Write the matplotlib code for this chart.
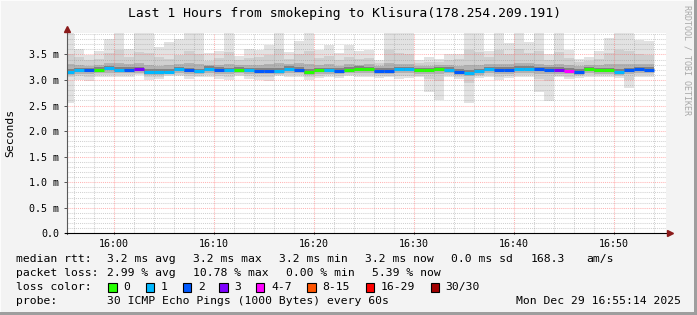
import numpy as np
import pandas as pd
import matplotlib
matplotlib.use("Agg")
import matplotlib.pyplot as plt
from matplotlib.patches import Rectangle

# ---------------- data ----------------
sample_end = pd.date_range("2025-12-29 15:56:03", periods=59, freq="min")
ref_time = pd.Timestamp("2025-12-29 16:00:00")

smoke_max = [4.20, 3.60, 3.49, 3.56, 3.81, 4.20, 3.61, 4.20, 4.20, 3.64,
             3.74, 3.81, 4.20, 4.20, 3.52, 3.56, 4.20, 3.47, 3.61, 3.59,
             3.69, 4.20, 3.55, 3.76, 4.20, 3.59, 3.69, 3.53, 3.69, 3.56,
             3.58, 3.40, 4.20, 4.20, 4.20, 3.40, 3.45, 3.42, 3.50, 3.50,
             4.20, 4.20, 3.57, 4.20, 3.72, 4.20, 3.74, 4.20, 3.51, 4.20,
             3.58, 3.42, 3.45, 3.56, 3.82, 4.20, 4.20, 3.79, 3.77]
smoke_p90 = [3.50, 3.45, 3.40, 3.42, 3.52, 3.58, 3.46, 3.55, 3.52, 3.46,
             3.42, 3.48, 3.56, 3.50, 3.38, 3.44, 3.55, 3.40, 3.44, 3.45,
             3.48, 3.60, 3.42, 3.50, 3.56, 3.44, 3.47, 3.40, 3.45, 3.42,
             3.44, 3.34, 3.58, 3.52, 3.50, 3.34, 3.36, 3.35, 3.40, 3.42,
             3.58, 3.55, 3.45, 3.58, 3.50, 3.60, 3.52, 3.56, 3.40, 3.55,
             3.44, 3.35, 3.38, 3.42, 3.52, 3.58, 3.56, 3.50, 3.48]
smoke_p75 = [3.32, 3.30, 3.28, 3.30, 3.34, 3.33, 3.31, 3.34, 3.30, 3.28,
             3.30, 3.32, 3.33, 3.31, 3.30, 3.30, 3.32, 3.29, 3.29, 3.30,
             3.31, 3.34, 3.31, 3.33, 3.32, 3.30, 3.31, 3.28, 3.31, 3.30,
             3.31, 3.27, 3.33, 3.32, 3.32, 3.28, 3.28, 3.29, 3.29, 3.28,
             3.30, 3.30, 3.31, 3.32, 3.32, 3.33, 3.33, 3.32, 3.30, 3.32,
             3.30, 3.27, 3.29, 3.30, 3.31, 3.32, 3.32, 3.32, 3.32]
smoke_p60 = [3.21, 3.24, 3.24, 3.25, 3.28, 3.25, 3.25, 3.26, 3.21, 3.21,
             3.22, 3.26, 3.24, 3.22, 3.27, 3.25, 3.24, 3.25, 3.24, 3.23,
             3.23, 3.23, 3.27, 3.25, 3.21, 3.24, 3.24, 3.23, 3.25, 3.27,
             3.26, 3.23, 3.23, 3.26, 3.26, 3.24, 3.24, 3.26, 3.25, 3.21,
             3.20, 3.22, 3.26, 3.25, 3.25, 3.27, 3.27, 3.26, 3.25, 3.25,
             3.23, 3.21, 3.26, 3.24, 3.24, 3.21, 3.24, 3.26, 3.25]
median_rtt = [3.16, 3.19, 3.19, 3.20, 3.23, 3.20, 3.20, 3.21, 3.15, 3.15,
              3.16, 3.21, 3.19, 3.17, 3.22, 3.20, 3.19, 3.20, 3.19, 3.18,
              3.18, 3.17, 3.22, 3.20, 3.15, 3.19, 3.19, 3.18, 3.20, 3.22,
              3.21, 3.18, 3.18, 3.21, 3.21, 3.19, 3.19, 3.21, 3.20, 3.16,
              3.14, 3.17, 3.21, 3.20, 3.20, 3.22, 3.22, 3.21, 3.20, 3.20,
              3.18, 3.15, 3.21, 3.19, 3.19, 3.16, 3.19, 3.21, 3.20]
smoke_p40 = [3.13, 3.15, 3.16, 3.17, 3.19, 3.17, 3.17, 3.17, 3.12, 3.12,
             3.13, 3.17, 3.16, 3.14, 3.18, 3.17, 3.15, 3.17, 3.16, 3.15,
             3.15, 3.14, 3.18, 3.17, 3.12, 3.16, 3.16, 3.15, 3.17, 3.18,
             3.18, 3.15, 3.15, 3.18, 3.18, 3.16, 3.16, 3.18, 3.17, 3.13,
             3.11, 3.14, 3.18, 3.17, 3.17, 3.19, 3.19, 3.18, 3.17, 3.17,
             3.15, 3.12, 3.18, 3.16, 3.16, 3.13, 3.16, 3.18, 3.17]
smoke_p25 = [3.10, 3.12, 3.12, 3.13, 3.14, 3.13, 3.13, 3.14, 3.09, 3.10,
             3.11, 3.14, 3.12, 3.11, 3.14, 3.12, 3.11, 3.13, 3.12, 3.11,
             3.11, 3.12, 3.14, 3.13, 3.09, 3.12, 3.12, 3.11, 3.13, 3.14,
             3.13, 3.11, 3.11, 3.14, 3.14, 3.12, 3.11, 3.12, 3.13, 3.09,
             3.07, 3.10, 3.13, 3.12, 3.12, 3.14, 3.14, 3.12, 3.11, 3.12,
             3.11, 3.09, 3.13, 3.12, 3.12, 3.10, 3.11, 3.13, 3.13]
smoke_p10 = [3.05, 3.07, 3.06, 3.09, 3.10, 3.09, 3.09, 3.11, 3.05, 3.06,
             3.09, 3.10, 3.07, 3.08, 3.09, 3.07, 3.06, 3.10, 3.07, 3.06,
             3.05, 3.10, 3.09, 3.09, 3.05, 3.08, 3.09, 3.07, 3.09, 3.09,
             3.09, 3.07, 3.08, 3.08, 3.08, 3.08, 3.02, 2.98, 3.09, 3.06,
             2.95, 3.07, 3.09, 3.06, 3.07, 3.10, 3.09, 3.02, 2.98, 3.08,
             3.06, 3.07, 3.09, 3.09, 3.09, 3.07, 3.00, 3.09, 3.09]
smoke_min = [2.55, 3.00, 2.98, 3.06, 3.05, 3.05, 3.06, 3.09, 3.00, 3.02,
             3.08, 3.08, 3.02, 3.05, 3.06, 3.02, 3.00, 3.08, 3.02, 3.00,
             2.99, 3.08, 3.05, 3.05, 3.00, 3.04, 3.06, 3.03, 3.07, 3.05,
             3.06, 3.04, 3.05, 3.02, 3.04, 3.05, 2.76, 2.60, 3.05, 3.02,
             2.55, 3.03, 3.05, 3.00, 3.03, 3.06, 3.05, 2.76, 2.59, 3.05,
             3.02, 3.04, 3.06, 3.05, 3.06, 3.04, 2.85, 3.05, 3.05]
lost_pings = [1, 1, 2, 0, 1, 1, 2, 3, 1, 1,
              1, 1, 2, 1, 1, 2, 1, 0, 1, 2,
              2, 1, 1, 2, 0, 0, 1, 2, 0, 0,
              0, 2, 2, 1, 1, 0, 0, 0, 1, 2,
              1, 1, 1, 2, 2, 1, 1, 2, 2, 3,
              5, 2, 0, 0, 0, 1, 2, 2, 2]

loss_labels = ["0", "1", "2", "3", "4-7", "8-15", "16-29", "30/30"]
loss_colors = ["#26ff00", "#00b8ff", "#0059ff", "#7e00ff",
               "#ff00ff", "#ff5500", "#ff0000", "#a10000"]
loss_upper = [0, 1, 2, 3, 7, 15, 29, 30]

y_ticks = [0.0, 0.5, 1.0, 1.5, 2.0, 2.5, 3.0, 3.5]
y_tick_labels = ["0.0", "0.5 m", "1.0 m", "1.5 m", "2.0 m", "2.5 m", "3.0 m", "3.5 m"]
x_ticks = [0, 10, 20, 30, 40, 50]
x_tick_labels = ["16:00", "16:10", "16:20", "16:30", "16:40", "16:50"]

title = "Last 1 Hours from smokeping to Klisura(178.254.209.191)"
stats_rtt = ["median rtt:", "3.2 ms avg", "3.2 ms max", "3.2 ms min",
             "3.2 ms now", "0.0 ms sd", "168.3", "am/s"]
stats_loss = ["packet loss:", "2.99 % avg", "10.78 % max", "0.00 % min", "5.39 % now"]
probe_text = "30 ICMP Echo Pings (1000 Bytes) every 60s"
stamp_text = "Mon Dec 29 16:55:14 2025"

# ---------------- figure ----------------
W, H = 697, 315
MONO = "DejaVu Sans Mono"
fig = plt.figure(figsize=(W / 100, H / 100), dpi=100)
fig.patch.set_facecolor("#f3f3f3")

def fx(px):
    return px / W

def fy(py):
    return 1 - py / H

ax_left, ax_right, ax_top, ax_bottom = 67, 666, 33, 233.3
ax = fig.add_axes([fx(ax_left), fy(ax_bottom), (ax_right - ax_left) / W, (ax_bottom - ax_top) / H])
ax.set_facecolor("white")
ax.set_xlim(-4.65, 55.25)
ax.set_ylim(0, 3.92)

x_end = ((sample_end - ref_time).total_seconds() / 60).to_numpy()
x_start = x_end - 1.0
edges = np.append(x_start, x_end[-1])

def ext(v):
    v = np.asarray(v, dtype=float)
    return np.append(v, v[-1])

layers = [(smoke_min, smoke_max, "#e2e2e2"),
          (smoke_p10, smoke_p90, "#d0d0d0"),
          (smoke_p25, smoke_p75, "#b2b2b2"),
          (smoke_p40, smoke_p60, "#828282")]
for lo, hi, c in layers:
    ax.fill_between(edges, ext(lo), ext(hi), step="post", color=c, lw=0,
                    antialiased=False, zorder=1)

# grid
minor_c = (0.55, 0.55, 0.55, 0.4)
major_c = (1.0, 0.35, 0.35, 0.45)
ls = (0, (1, 1))
for v in np.arange(0.1, 3.95, 0.1):
    if abs(v / 0.5 - round(v / 0.5)) > 1e-6:
        ax.axhline(v, color=minor_c, lw=0.75, ls=ls, zorder=2)
for v in y_ticks[1:]:
    ax.axhline(v, color=major_c, lw=0.75, ls=ls, zorder=2)
for m in range(-4, 56, 2):
    if m % 10 != 0:
        ax.axvline(m, color=minor_c, lw=0.75, ls=ls, zorder=2)
for m in x_ticks:
    ax.axvline(m, color=major_c, lw=0.75, ls=ls, zorder=2)

def loss_color(n):
    for up, c in zip(loss_upper, loss_colors):
        if n <= up:
            return c
    return loss_colors[-1]

ax.hlines(median_rtt, x_start, x_end, colors=[loss_color(n) for n in lost_pings],
          lw=2.2, capstyle="butt", zorder=3)

for s in ax.spines.values():
    s.set_visible(False)

ax.set_yticks(y_ticks)
ax.set_yticklabels(y_tick_labels, family=MONO, fontsize=7.2)
ax.set_xticks(x_ticks)
ax.set_xticklabels(x_tick_labels, family=MONO, fontsize=7.2)
ax.tick_params(axis="y", length=2, width=0.7, color="#555555", direction="out", pad=3.6)
ax.tick_params(axis="x", length=2, width=0.7, color="#222222", direction="inout", pad=3.4)

# axis lines and arrows (figure coords)
fig.add_artist(plt.Line2D([fx(ax_left), fx(ax_left)], [fy(ax_bottom + 1), fy(29)],
                          color="#5a5a5a", lw=0.8))
fig.add_artist(plt.Line2D([fx(ax_left - 2), fx(670)], [fy(ax_bottom), fy(ax_bottom)],
                          color="#000000", lw=0.8))
fig.add_artist(plt.Line2D([fx(ax_left)], [fy(28.5)], marker="^", markersize=5,
                          color="#8b1a1a", lw=0))
fig.add_artist(plt.Line2D([fx(669.5)], [fy(ax_bottom)], marker=">", markersize=5,
                          color="#8b1a1a", lw=0))

# texts
fig.text(fx(345), fy(14), title, ha="center", va="center", family=MONO, fontsize=9.4)
fig.text(fx(10.5), fy(132.5), "Seconds", rotation=90, ha="center", va="center",
         family=MONO, fontsize=8.2)
fig.text(fx(687), fy(5), "RRDTOOL / TOBI OETIKER", rotation=270, ha="center", va="top",
         family=MONO, fontsize=6, color="#a8a8a8")

fs = 8.2
row_y = [259.3, 272.7, 286.7, 300.7]
for txt, x in zip(stats_rtt, [16, 107.3, 193.3, 279.3, 365, 451, 530.7, 586]):
    fig.text(fx(x), fy(row_y[0]), txt, ha="left", va="center", family=MONO, fontsize=fs)
for txt, x in zip(stats_loss, [16, 107.3, 192.7, 286, 372.3]):
    fig.text(fx(x), fy(row_y[1]), txt, ha="left", va="center", family=MONO, fontsize=fs)
fig.text(fx(16), fy(row_y[2]), "loss color:", ha="left", va="center", family=MONO, fontsize=fs)
box_x = [108.3, 145.7, 182.7, 219.3, 256, 307.3, 365.7, 430.7]
for lab, c, bx in zip(loss_labels, loss_colors, box_x):
    fig.add_artist(Rectangle((fx(bx), fy(291.5)), 8.3 / W, 8.3 / H, facecolor=c,
                             edgecolor="black", lw=0.8, transform=fig.transFigure))
    fig.text(fx(bx + 15), fy(row_y[2]), lab, ha="left", va="center", family=MONO, fontsize=fs)
fig.text(fx(16), fy(row_y[3]), "probe:", ha="left", va="center", family=MONO, fontsize=fs)
fig.text(fx(107.3), fy(row_y[3]), probe_text, ha="left", va="center", family=MONO, fontsize=fs)
fig.text(fx(680.5), fy(row_y[3]), stamp_text, ha="right", va="center", family=MONO, fontsize=fs)

# 3D frame
fig.add_artist(Rectangle((0, fy(1)), 1, 1 / H, facecolor="#fcfcfc", lw=0, transform=fig.transFigure))
fig.add_artist(Rectangle((0, 0), 1 / W, 1, facecolor="#fcfcfc", lw=0, transform=fig.transFigure))
fig.add_artist(Rectangle((fx(694), 0), 3 / W, 1, facecolor="#9e9e9e", lw=0, transform=fig.transFigure))
fig.add_artist(Rectangle((0, 0), 1, 3 / H, facecolor="#9e9e9e", lw=0, transform=fig.transFigure))

fig.savefig("out.png", dpi=100, facecolor=fig.get_facecolor())
